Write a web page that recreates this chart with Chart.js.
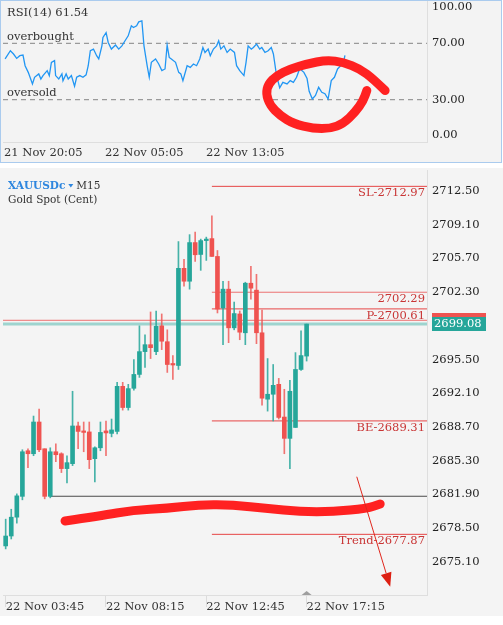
<!DOCTYPE html>
<html><head><meta charset="utf-8">
<script src="https://cdn.jsdelivr.net/npm/chart.js@4.4.0/dist/chart.umd.min.js"></script>
<style>
html,body{margin:0;padding:0;background:#fff;width:503px;height:625px;overflow:hidden;}
#rsiBox{position:absolute;left:0;top:0;width:500px;height:161px;border:1px solid #aacbee;background:#f3f3f3;}
#candleBox{position:absolute;left:0;top:168px;width:503px;height:448px;background:#f4f4f4;}
canvas{position:absolute;left:0;}
#rsi{top:0;}
#candle{top:167px;}
</style></head><body>
<div id="rsiBox"></div><div id="candleBox"></div>
<canvas id="rsi" width="503" height="163"></canvas>
<canvas id="candle" width="503" height="451"></canvas>
<script>
const FONT = "'DejaVu Serif', serif";

// ---------- RSI panel data ----------
const rsiTitle = 'RSI(14) 61.54';
const rsiBars = [1,6,9,12,15,18,20,23,27,29,33,35,37,41,43,45,48,49,52,55,56,59,61,64,67,69,72,75,78,80,82,85,88,90,93,94,97,99,102,106,109,112,115,118,121,123,126,128,131,133,136,138,140,144,147,150,153,155,157,159,163,166,168,170,174,177,180,183,186,189,191,194,196,199,202,204,206,209,212,215,219,221,224,228,230,232,235,237,240,243,245,248,251,254,256,259,262,265,269,272,275,278,281,285,288,290,293,296,299,302,305,308,311,314,317,320,323,324];
const rsiValues = [58.9,64.7,62.4,59.3,61.2,61.7,54.1,49.4,41.2,45.9,48.3,44.7,47.1,50.6,47.1,56.5,57.7,47.1,44.7,48.3,43.5,48.3,44.7,47.1,39.5,45.9,47.1,45.9,47.6,54.1,64.7,65.9,61.2,58.9,68.2,74.1,77.6,70.6,65.9,68.8,65.9,68.2,71.8,75.3,82.4,81.2,82.4,85.2,85.9,68.2,54.1,45.9,56.5,58.9,55.3,50.6,51.8,68.7,60.0,58.9,56.5,49.4,48.3,43.5,54.1,52.9,55.3,54.1,58.9,67.0,63.5,65.9,61.2,65.9,68.2,71.8,65.9,68.2,63.5,65.9,63.5,54.1,50.6,47.1,56.5,68.2,65.9,67.0,69.4,65.9,67.0,63.5,64.7,67.0,62.4,47.1,38.5,42.3,41.2,43.5,42.3,45.9,52.0,49.4,45.0,36.0,30.5,33.0,38.8,35.3,34.2,30.5,43.5,45.9,51.8,54.1,57.7,61.5];
const rsiLevels = [70, 30];
const rsiLevelNames = ['overbought', 'oversold'];
const rsiTicks = [100, 70, 30, 0];
const rsiTimeTicks = [0, 96, 192];
const rsiTimeLabels = ['21 Nov 20:05', '22 Nov 05:05', '22 Nov 13:05'];
// hand-drawn ring (bar, rsi value)
const ringBars = [362.2,351.0,338.4,322.5,306.7,287.7,271.9,259.2,251.2,249.0,252.9,262.4,275.0,294.0,309.9,322.5,333.7,341.5,344.8];
const ringValues = [36.5,44.7,51.8,56.5,58.2,55.3,51.8,47.1,41.2,34.2,25.9,18.8,13.0,9.5,9.5,13.0,21.2,29.4,36.5];

// ---------- Candle panel data ----------
const candleOpen  = [2676.7,2677.7,2679.6,2681.7,2686.3,2686.0,2689.2,2686.5,2681.7,2686.2,2686.0,2684.5,2685.0,2688.8,2688.3,2688.2,2685.5,2686.6,2688.3,2688.05,2688.25,2692.8,2690.66,2692.6,2694.0,2696.3,2697.0,2696.3,2698.9,2697.3,2695.05,2694.9,2704.7,2703.4,2707.3,2706.1,2707.5,2707.7,2705.9,2700.7,2702.6,2698.7,2700.1,2698.2,2703.2,2702.5,2698.2,2691.5,2692.0,2693.0,2689.7,2687.55,2688.65,2694.5,2695.85];
const candleHigh  = [2679.4,2680.4,2681.95,2686.4,2686.5,2689.8,2690.5,2686.5,2686.6,2687.0,2686.1,2685.8,2692.3,2689.2,2689.2,2689.2,2686.7,2689.2,2689.3,2689.5,2693.2,2693.2,2693.0,2695.5,2698.9,2698.0,2700.3,2700.4,2700.1,2698.5,2695.9,2707.4,2705.6,2708.1,2708.35,2707.65,2707.85,2710.0,2706.5,2703.4,2703.4,2701.3,2700.4,2703.3,2704.9,2704.1,2700.5,2695.6,2695.0,2693.6,2692.5,2693.4,2696.2,2698.4,2699.08];
const candleLow   = [2676.4,2677.4,2679.0,2681.35,2684.6,2685.8,2686.2,2681.45,2681.55,2685.2,2684.1,2683.05,2684.8,2686.5,2686.2,2684.5,2683.15,2686.3,2685.8,2687.7,2688.0,2690.4,2690.4,2692.4,2693.7,2694.7,2695.6,2696.0,2696.5,2694.2,2693.5,2694.5,2702.9,2702.6,2705.4,2704.5,2705.5,2705.9,2700.2,2697.0,2697.2,2698.5,2697.5,2697.0,2701.6,2697.1,2690.9,2690.3,2689.3,2689.5,2686.0,2684.5,2688.65,2694.4,2695.35];
const candleClose = [2677.7,2679.6,2681.75,2686.2,2686.0,2689.2,2686.4,2681.7,2686.2,2685.9,2684.5,2685.1,2688.8,2688.25,2688.15,2685.4,2686.6,2688.15,2688.1,2688.4,2692.8,2690.66,2692.57,2694.0,2696.3,2697.0,2696.7,2698.86,2697.35,2695.0,2694.95,2704.7,2703.4,2707.3,2706.07,2707.5,2707.65,2705.9,2700.6,2702.6,2698.7,2700.14,2698.26,2703.2,2702.7,2698.2,2691.6,2692.0,2692.9,2689.66,2687.55,2692.3,2694.5,2695.9,2699.08];
const timeTicks = [0, 18, 36, 54];
const timeLabels = ['22 Nov 03:45', '22 Nov 08:15', '22 Nov 12:45', '22 Nov 17:15'];
const priceTicks = [2712.5, 2709.1, 2705.7, 2702.3, 2695.5, 2692.1, 2688.7, 2685.3, 2681.9, 2678.5, 2675.1];
const levelNames  = ['SL-2712.97', '2702.29', 'P-2700.61', 'BE-2689.31', 'Trend-2677.87'];
const levelPrices = [2712.97, 2702.29, 2700.61, 2689.31, 2677.87];
const levelStart = 37;
const supportPrice = 2681.71;
const supportStart = 8;
const bidPrice = 2699.08;
const askPrice = 2699.46;
const symbolName = 'XAUUSDc';
const timeframe = 'M15';
const symbolDesc = 'Gold Spot (Cent)';
// hand-drawn stroke (candle index, price)
const strokeIdx   = [10.65,16.93,22.9,28.9,34.9,40.8,46.9,52.8,58.8,64.8,67.2];
const strokePrice = [2679.22,2679.72,2680.32,2680.49,2680.87,2680.83,2680.49,2680.15,2680.15,2680.49,2680.93];
const arrowIdx   = [63.0, 69.0];
const arrowPrice = [2683.68, 2672.59];

const X_MAX = 75.6, X_MIN = -0.48;
const UP = '#26a69a', DOWN = '#ef5350';

function noPad(s) { s.paddingTop = 0; s.paddingBottom = 0; s.paddingLeft = 0; s.paddingRight = 0; }

function smoothStroke(ctx, pts) {
  ctx.beginPath();
  ctx.moveTo(pts[0].x, pts[0].y);
  for (let i = 1; i < pts.length - 1; i++) {
    const mx = (pts[i].x + pts[i + 1].x) / 2, my = (pts[i].y + pts[i + 1].y) / 2;
    ctx.quadraticCurveTo(pts[i].x, pts[i].y, mx, my);
  }
  const l = pts[pts.length - 1];
  ctx.lineTo(l.x, l.y);
  ctx.stroke();
}

// ---------- RSI chart ----------
const rsiPlugin = {
  id: 'rsiDecor',
  afterDatasetsDraw(chart) {
    const ctx = chart.ctx, xs = chart.scales.x, ys = chart.scales.y, a = chart.chartArea;
    ctx.save();
    ctx.font = '11.5px ' + FONT;
    ctx.fillStyle = '#333';
    ctx.textAlign = 'left';
    ctx.textBaseline = 'middle';
    ctx.fillText(rsiTitle, 7, 13);
    rsiLevels.forEach((v, i) => {
      const y = ys.getPixelForValue(v);
      ctx.textBaseline = 'bottom';
      ctx.fillText(rsiLevelNames[i], 7, y - 1);
    });
    ctx.fillStyle = '#222';
    ctx.textBaseline = 'middle';
    rsiTicks.forEach(v => {
      let y = ys.getPixelForValue(v);
      y = Math.min(Math.max(y, a.top + 6), a.bottom - 7);
      ctx.fillText(v.toFixed(2), a.right + 5, y);
    });
    ctx.strokeStyle = '#ff2121';
    ctx.lineWidth = 9;
    ctx.lineCap = 'round';
    ctx.lineJoin = 'round';
    const pts = ringBars.map((b, i) => ({x: xs.getPixelForValue(b), y: ys.getPixelForValue(ringValues[i])}));
    smoothStroke(ctx, pts);
    ctx.restore();
  }
};

new Chart(document.getElementById('rsi'), {
  type: 'line',
  data: {
    datasets: [
      {data: rsiBars.map((b, i) => ({x: b, y: rsiValues[i]})), borderColor: '#2196f3', borderWidth: 1.3, pointRadius: 0, tension: 0},
      ...rsiLevels.map(v => ({data: [{x: -1, y: v}, {x: 402, y: v}], borderColor: '#9a9a9a', borderWidth: 1.2, borderDash: [5, 4], pointRadius: 0}))
    ]
  },
  options: {
    responsive: false, animation: false, devicePixelRatio: 1,
    layout: {padding: {left: 3, top: 1, right: 0, bottom: 0}},
    plugins: {legend: {display: false}, tooltip: {enabled: false}},
    scales: {
      x: {
        type: 'linear', min: -1, max: 402,
        afterBuildTicks: s => { s.ticks = rsiTimeTicks.map(v => ({value: v})); },
        afterFit: s => { s.height = 21; noPad(s); },
        grid: {display: false, drawTicks: false},
        border: {display: true, color: '#dedede', width: 1},
        ticks: {align: 'start', padding: 4, maxRotation: 0, autoSkip: false, color: '#333', font: {family: FONT, size: 11.5},
          callback: (v) => rsiTimeLabels[rsiTimeTicks.indexOf(v)]}
      },
      y: {
        position: 'right', min: 0, max: 100,
        afterFit: s => { s.width = 76; noPad(s); },
        grid: {display: false, drawTicks: false},
        border: {display: true, color: '#dedede', width: 1},
        ticks: {display: false}
      }
    }
  },
  plugins: [rsiPlugin]
});

// ---------- Candle chart ----------
const idx = candleOpen.map((_, i) => i);
const colors = idx.map(i => candleClose[i] >= candleOpen[i] ? UP : DOWN);
const wickColors = idx.map(i => candleClose[i] >= candleOpen[i] ? 'rgba(38,166,154,0.85)' : 'rgba(239,83,80,0.8)');

const lineDatasets = [];
levelPrices.forEach((p, i) => lineDatasets.push({type: 'line', order: 2, data: [{x: levelStart, y: p}, {x: X_MAX, y: p}],
  borderColor: i === 1 ? 'rgba(233,80,80,0.8)' : '#e64545', borderWidth: 1, pointRadius: 0}));
lineDatasets.push({type: 'line', order: 2, data: [{x: supportStart, y: supportPrice}, {x: X_MAX, y: supportPrice}], borderColor: '#4a4a4a', borderWidth: 1, pointRadius: 0});
lineDatasets.push({type: 'line', order: 2, data: [{x: X_MIN, y: askPrice}, {x: X_MAX, y: askPrice}], borderColor: 'rgba(236,90,90,0.85)', borderWidth: 1, pointRadius: 0});
lineDatasets.push({type: 'line', order: 3, data: [{x: X_MIN, y: bidPrice}, {x: X_MAX, y: bidPrice}], borderColor: 'rgba(38,166,154,0.42)', borderWidth: 3, pointRadius: 0});

const candlePlugin = {
  id: 'candleDecor',
  afterDatasetsDraw(chart) {
    const ctx = chart.ctx, xs = chart.scales.x, ys = chart.scales.y, a = chart.chartArea;
    ctx.save();
    ctx.font = '11.5px ' + FONT;
    ctx.fillStyle = '#c93535';
    ctx.textAlign = 'right';
    ctx.textBaseline = 'top';
    levelPrices.forEach((p, i) => ctx.fillText(levelNames[i], a.right - 2, ys.getPixelForValue(p) + 1));
    ctx.textAlign = 'left';
    ctx.textBaseline = 'middle';
    ctx.font = '600 10.5px ' + FONT;
    ctx.fillStyle = '#2e86de';
    ctx.fillText(symbolName, 8, 19);
    const w = ctx.measureText(symbolName).width;
    ctx.beginPath();
    ctx.moveTo(8 + w + 3, 17); ctx.lineTo(8 + w + 8, 17); ctx.lineTo(8 + w + 5.5, 20.5); ctx.closePath(); ctx.fill();
    ctx.fillStyle = '#333';
    ctx.font = '10.5px ' + FONT;
    ctx.fillText(timeframe, 8 + w + 11, 19);
    ctx.fillText(symbolDesc, 8, 33);
    ctx.strokeStyle = '#ff2121';
    ctx.lineWidth = 9;
    ctx.lineCap = 'round';
    ctx.lineJoin = 'round';
    smoothStroke(ctx, strokeIdx.map((v, i) => ({x: xs.getPixelForValue(v), y: ys.getPixelForValue(strokePrice[i])})));
    const x0 = xs.getPixelForValue(arrowIdx[0]), y0 = ys.getPixelForValue(arrowPrice[0]);
    const x1 = xs.getPixelForValue(arrowIdx[1]), y1 = ys.getPixelForValue(arrowPrice[1]);
    const L = Math.hypot(x1 - x0, y1 - y0), dx = (x1 - x0) / L, dy = (y1 - y0) / L;
    const hl = 14, hw = 5.5;
    ctx.strokeStyle = '#e0261c'; ctx.fillStyle = '#dd1f12';
    ctx.lineWidth = 1; ctx.lineCap = 'butt';
    ctx.beginPath(); ctx.moveTo(x0, y0); ctx.lineTo(x1 - dx * hl, y1 - dy * hl); ctx.stroke();
    ctx.beginPath();
    ctx.moveTo(x1, y1);
    ctx.lineTo(x1 - dx * hl - dy * hw, y1 - dy * hl + dx * hw);
    ctx.lineTo(x1 - dx * hl + dy * hw, y1 - dy * hl - dx * hw);
    ctx.closePath(); ctx.fill();
    const mx = xs.getPixelForValue(candleOpen.length - 1);
    ctx.fillStyle = '#9e9e9e';
    ctx.beginPath(); ctx.moveTo(mx - 5, a.bottom); ctx.lineTo(mx + 5, a.bottom); ctx.lineTo(mx, a.bottom - 4); ctx.closePath(); ctx.fill();
    ctx.restore();
  },
  afterDraw(chart) {
    const ctx = chart.ctx, ys = chart.scales.y, a = chart.chartArea;
    ctx.save();
    const ya = ys.getPixelForValue(askPrice), yb = ys.getPixelForValue(bidPrice);
    ctx.fillStyle = DOWN;
    ctx.fillRect(a.right + 5, Math.round(ya - 7), 54, 14);
    ctx.fillStyle = UP;
    ctx.fillRect(a.right + 5, Math.round(yb - 7), 54, 14);
    ctx.fillStyle = '#fff';
    ctx.font = '11.5px ' + FONT;
    ctx.textAlign = 'left';
    ctx.textBaseline = 'middle';
    ctx.fillText(bidPrice.toFixed(2), a.right + 7, yb);
    ctx.restore();
  }
};

new Chart(document.getElementById('candle'), {
  type: 'bar',
  data: {
    datasets: [
      {order: 0, data: idx.map(i => ({x: i, y: [candleOpen[i], candleClose[i]]})), backgroundColor: colors, barThickness: 4, minBarLength: 1.5, grouped: false, borderWidth: 0},
      {order: 1, data: idx.map(i => ({x: i, y: [candleLow[i], candleHigh[i]]})), backgroundColor: wickColors, barThickness: 1, grouped: false, borderWidth: 0},
      ...lineDatasets
    ]
  },
  options: {
    responsive: false, animation: false, devicePixelRatio: 1,
    layout: {padding: {left: 3, top: 3, right: 0, bottom: 0}},
    plugins: {legend: {display: false}, tooltip: {enabled: false}},
    scales: {
      x: {
        type: 'linear', min: X_MIN, max: X_MAX, offset: false,
        afterBuildTicks: s => { s.ticks = timeTicks.map(v => ({value: v})); },
        afterFit: s => { s.height = 23; noPad(s); },
        grid: {display: true, drawOnChartArea: false, drawTicks: true, tickLength: 12, tickColor: '#dcdcdc', offset: false},
        border: {display: true, color: '#dedede', width: 1},
        ticks: {align: 'start', padding: -7, maxRotation: 0, autoSkip: false, color: '#333', font: {family: FONT, size: 11.5},
          callback: (v) => timeLabels[timeTicks.indexOf(v)]}
      },
      y: {
        position: 'right', min: 2671.75, max: 2714.62,
        afterBuildTicks: s => { s.ticks = priceTicks.map(v => ({value: v})); },
        afterFit: s => { s.width = 76; noPad(s); },
        grid: {display: false, drawTicks: false},
        border: {display: true, color: '#dedede', width: 1},
        ticks: {padding: 5, color: '#222', font: {family: FONT, size: 11.5}, callback: v => Number(v).toFixed(2)}
      }
    }
  },
  plugins: [candlePlugin]
});
</script>
</body></html>
